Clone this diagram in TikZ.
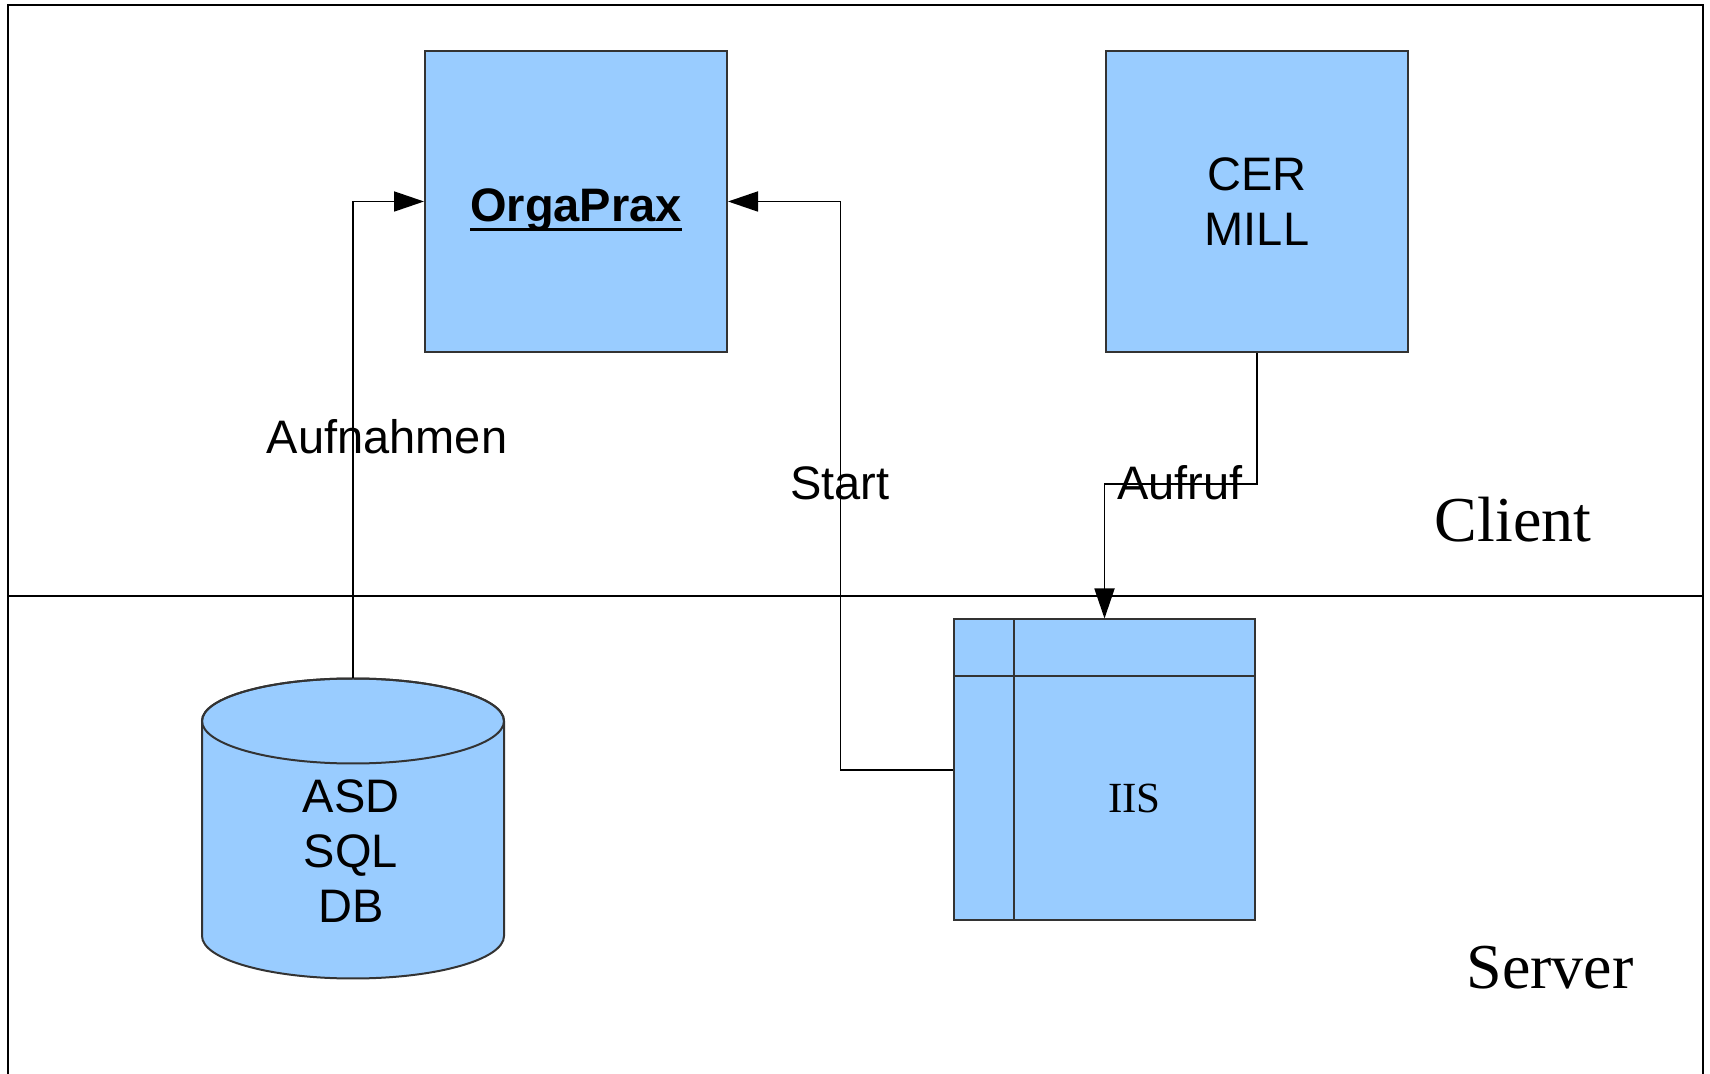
\documentclass[tikz,border=0pt]{standalone}
\usepackage{fontspec}
\setmainfont{Liberation Serif}
\newfontfamily\arialfont{Liberation Sans}
\usetikzlibrary{arrows.meta}

\newcommand\ulbold[1]{\setbox0\hbox{\bfseries #1}\rlap{\rule[-5pt]{\wd0}{1.5pt}}\box0}

\tikzset{
  unit/.style = {draw = boxline, fill = boxblue, line width = 1pt, inner sep = 0pt,
    minimum width = 151pt, minimum height = 150.5pt, align = center,
    font = \arialfont\fontsize{23.5}{27.5}\selectfont},
  flow/.style = {draw = black, line width = 0.9pt, -{Triangle[length = 15pt, width = 10pt]}},
  lbl/.style = {font = \arialfont\fontsize{23.5}{27.5}\selectfont, inner sep = 0pt, align = center},
  zone/.style = {font = \fontsize{32}{36}\selectfont, inner sep = 0pt}
}

\begin{document}
\begin{tikzpicture}[x = 0.5pt, y = -0.5pt]
\definecolor{boxblue}{HTML}{99CCFF}
\definecolor{boxline}{HTML}{333333}
\useasboundingbox (0,0) rectangle (1710,1074);
% frame
\draw[line width = 1.2pt] (8,1074) -- (8,5) -- (1703,5) -- (1703,1074);
\draw[line width = 1pt] (8,596.5) -- (1703,596.5);
% client side
\node[unit] (orga) at (576,201.5) {\raisebox{-10pt}[0pt][0pt]{\ulbold{OrgaPrax}}};
\node[unit] (cer) at (1257,201.5) {CER\\MILL};
% server side
\filldraw[fill = boxblue, draw = boxline, line width = 1pt] (202,721) -- (202,936) arc[start angle = 180, end angle = 0, x radius = 151, y radius = 42.5] -- (504,721) arc[start angle = 0, end angle = -180, x radius = 151, y radius = 42.5] -- cycle;
\draw[boxline, line width = 1pt] (353,721) ellipse[x radius = 151, y radius = 42.5];
\coordinate (dbtop) at (353,678.5);
\node[lbl] (db) at (351,851) {ASD\\SQL\\DB};
\node[unit, minimum width = 150.5pt] (iis) at (1104.5,770) {};
\draw[boxline, line width = 1pt] (1014,619.5) -- (1014,920.5) (954,676) -- (1255,676);
\node[font = \fontsize{21.5}{24}\selectfont, inner sep = 0pt] (iislbl) at (1134.5,798) {IIS};
% connectors
\draw[flow] (dbtop) |- (orga.west);
\draw[flow] (iis.west) -| ([xshift = 56.25pt]orga.east) -- (orga.east);
\draw[flow] (cer.south) |- ([yshift = 67.25pt]iis.north) -- (iis.north);
\node[lbl] (aufnahmen) at (387,437) {Aufnahmen};
\node[lbl] (start) at (840,483) {Start};
\node[lbl] (aufruf) at (1180,483) {Aufruf};
\node[zone] (client) at (1513,520) {Client};
\node[zone] (server) at (1550,968) {Server};
\end{tikzpicture}
\end{document}
